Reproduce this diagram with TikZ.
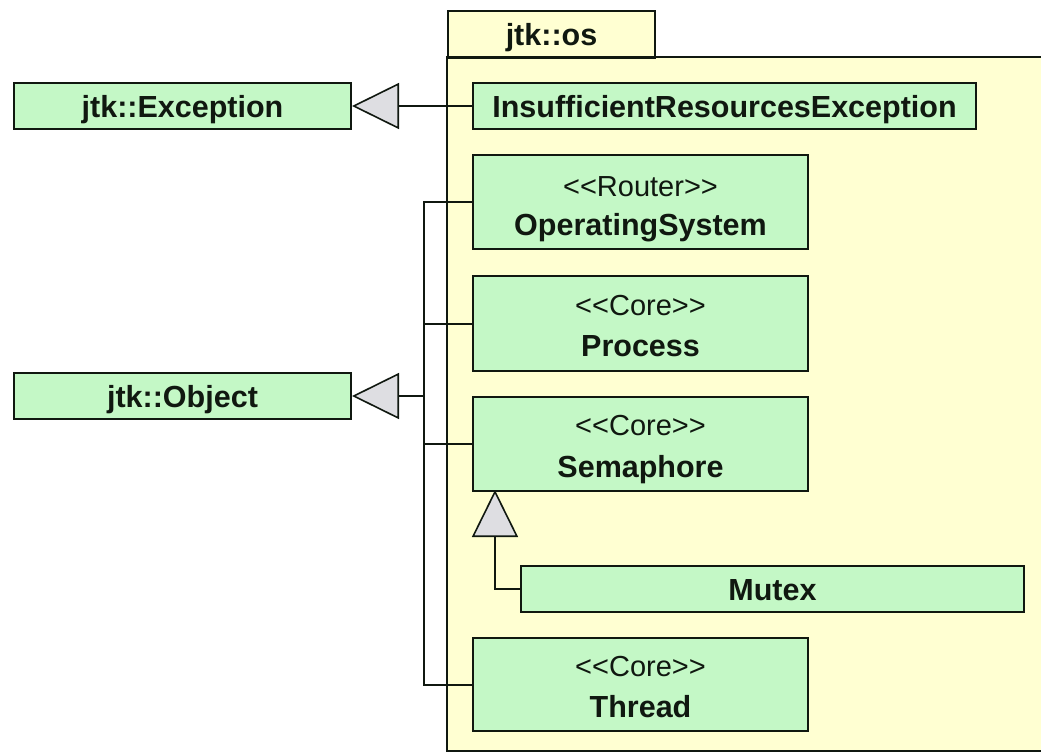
\documentclass[tikz,border=0pt]{standalone}
\usepackage{fontspec}
\setmainfont{Liberation Sans}
\usetikzlibrary{arrows.meta}
\definecolor{clsfill}{RGB}{196,248,198}
\definecolor{pkgfill}{RGB}{255,255,210}
\definecolor{trifill}{RGB}{222,222,226}
\definecolor{ink}{RGB}{16,24,16}
\begin{document}
\begin{tikzpicture}[x=1pt,y=-1pt,
  cls/.style={draw=ink, fill=clsfill, line width=2pt, rectangle, inner sep=0pt, anchor=north west},
  bold/.style={font=\fontsize{30.5}{36}\selectfont\bfseries, text=ink},
  single/.style={cls, bold, minimum height=46pt, text height=22.5pt, text depth=0pt},
  double/.style={cls, minimum width=335pt},
  namelbl/.style={bold, anchor=base, inner sep=0pt},
  stereolbl/.style={font=\fontsize{29}{34}\selectfont, text=ink, anchor=base, inner sep=0pt},
  link/.style={draw=ink, line width=2pt},
  gentip/.style={-{Triangle[length=47pt, width=46pt, fill=trifill, line width=1.6pt]}}
]
\useasboundingbox (0,0) rectangle (1041,753);
\fill[white] (0,0) rectangle (1041,753);

% package
\fill[pkgfill] (447,10) rectangle (654,57);
\fill[pkgfill] (447,57) rectangle (1041,751);
\node[draw=ink, line width=2pt, fill=pkgfill, anchor=north west, minimum width=207pt, minimum height=47pt,
      inner sep=0pt, bold, text height=22.5pt, text depth=0pt] (pkgtab) at (447,10) {jtk::os};
\draw[line width=2pt, draw=ink] (1041,57) -- (447,57) -- (447,751) -- (1041,751);

% classes
\node[single, minimum width=337pt] (exc) at (13,82) {jtk::Exception};
\node[single, minimum width=337pt] (obj) at (13,372) {jtk::Object};
\node[single, minimum width=503pt] (ire) at (472,82) {InsufficientResourcesException};
\node[single, minimum width=503pt] (mutex) at (520,565) {Mutex};

\node[double, minimum height=94pt] (os) at (472,154) {};
\node[stereolbl] (osst) at ([yshift=-42pt]os.north) {<{}<Router>{}>};
\node[namelbl] (osnm) at ([yshift=-81pt]os.north) {OperatingSystem};

\node[double, minimum height=95pt] (proc) at (472,275) {};
\node[stereolbl] (procst) at ([yshift=-40pt]proc.north) {<{}<Core>{}>};
\node[namelbl] (procnm) at ([yshift=-81pt]proc.north) {Process};

\node[double, minimum height=94pt] (sem) at (472,396) {};
\node[stereolbl] (semst) at ([yshift=-39pt]sem.north) {<{}<Core>{}>};
\node[namelbl] (semnm) at ([yshift=-81pt]sem.north) {Semaphore};

\node[double, minimum height=93pt] (thread) at (472,637) {};
\node[stereolbl] (threadst) at ([yshift=-39pt]thread.north) {<{}<Core>{}>};
\node[namelbl] (threadnm) at ([yshift=-80pt]thread.north) {Thread};

% connectors
\coordinate (trunk) at (424,0);
\coordinate (jn) at (obj.east -| trunk);
\coordinate (semin) at (495,490);
\draw[link, gentip] (ire.west) -- (exc.east);
\draw[link] (os.west) -| (jn);
\draw[link] (thread.west) -| (jn);
\draw[link] (proc.west) -- (proc.west -| jn);
\draw[link] (sem.west) -- (sem.west -| jn);
\draw[link, gentip] (jn) -- (obj.east);
\draw[link, gentip] (mutex.west) -| (semin);
\end{tikzpicture}
\end{document}
